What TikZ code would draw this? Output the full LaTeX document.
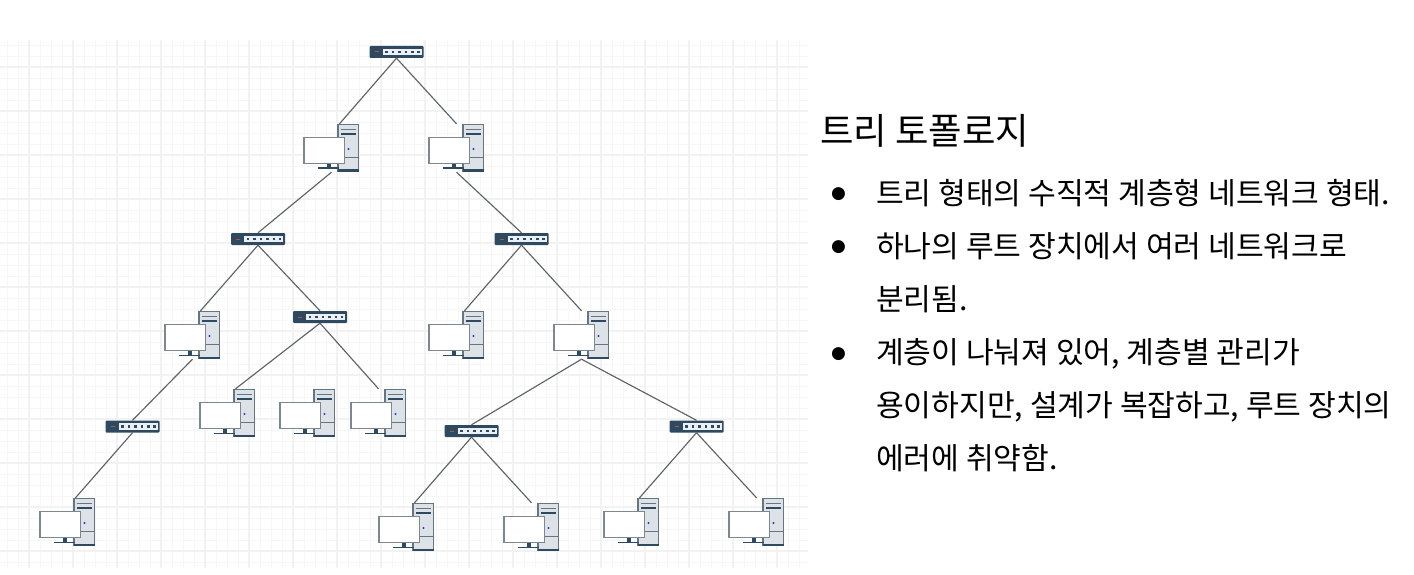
\documentclass[tikz,border=0pt]{standalone}
\usepackage{fontspec}
\usepackage{xcolor}
\usepackage{tikz}
\usetikzlibrary{positioning, arrows.meta, calc}
\newfontfamily\krfont{Noto Sans CJK KR}
\newfontfamily\dotfont{DejaVu Sans}
\definecolor{gridminor}{HTML}{F7F7F7}
\definecolor{gridmajor}{HTML}{F2F2F2}
\definecolor{wirecol}{HTML}{5F6368}
\definecolor{swbody}{HTML}{2F4A60}
\definecolor{swpanel}{HTML}{EAF0F5}
\definecolor{towerfill}{HTML}{DCE2E7}
\definecolor{towerline}{HTML}{66757F}
\definecolor{monline}{HTML}{7C878E}
\tikzset{
  pcicon/.pic={
    \node[inner sep=0pt, minimum width=57pt, minimum height=48pt] (-n) at (0,0) {};
    \begin{scope}[shift={(-28.5,-24)}]
      \draw[towerline, fill=towerfill, line width=1.2pt] (35,.8) rectangle (55.3,47);
      \fill[swbody] (34.5,45.5) rectangle (55.8,47.6);
      \fill[swbody] (37.5,9) rectangle (53,11);
      \draw[towerline, line width=.7pt] (37.5,5.5) -- (53,5.5) (35,33.5) -- (55.3,33.5);
      \fill[blue!60!gray] (45.5,25) circle (1.1pt);
      \fill[swbody] (23.5,39) rectangle (27.5,43.5);
      \fill[swbody] (15,43.5) rectangle (36,44.6);
      \draw[monline, fill=white, line width=1.4pt] (.8,13.5) rectangle (41.2,39.5);
    \end{scope}},
  swicon/.pic={
    \node[inner sep=0pt, minimum width=54pt, minimum height=12pt, fill=swbody, rounded corners=1pt] (-n) at (0,0) {};
    \begin{scope}[shift={(-27,-6)}]
      \fill[swpanel] (13,2.8) rectangle (52,9.2);
      \foreach \px in {17,23.5,30,36.5,43,49}
        \fill[swbody] (\px-1.3,4.6) rectangle (\px+1.3,7.2);
      \fill[red!35!gray] (5,5.5) rectangle (9,6.5);
    \end{scope}},
  wire/.style={wirecol, line width=1.15pt},
  headtxt/.style={anchor=base west, inner sep=0pt, font=\krfont\fontsize{36.4}{42}\selectfont},
  itemtxt/.style={anchor=north west, inner sep=0pt, align=left, font=\krfont\fontsize{30.15}{53.3}\selectfont},
  dottxt/.style={inner sep=0pt, font=\dotfont\fontsize{17}{20}\selectfont}
}
\begin{document}
\begin{tikzpicture}[x=1pt, y=-1pt]
  \useasboundingbox (0,0) rectangle (1414,575);
  % backdrop grid
  \foreach \gx in {7,18,...,807} \draw[gridminor, line width=.9pt] (\gx,40) -- (\gx,568);
  \foreach \gy in {45,56,...,567} \draw[gridminor, line width=.9pt] (0,\gy) -- (808,\gy);
  \foreach \gx in {29,73,...,807} \draw[gridmajor, line width=1.2pt] (\gx,40) -- (\gx,568);
  \foreach \gy in {67,111,...,567} \draw[gridmajor, line width=1.2pt] (0,\gy) -- (808,\gy);

  % switches
  \pic (swroot) at (396.5,52) {swicon};
  \pic (swleft) at (258,239) {swicon};
  \pic (swright) at (521.5,239) {swicon};
  \pic (swmid) at (320,317) {swicon};
  \pic (swlow) at (132.5,426.5) {swicon};
  \pic (swbota) at (471.5,431) {swicon};
  \pic (swbotb) at (696.5,426.5) {swicon};

  % computers
  \pic (pca) at (331.5,148) {pcicon};
  \pic (pcb) at (456.5,148) {pcicon};
  \pic (pcc) at (192.5,335) {pcicon};
  \pic (pcd) at (456.5,335) {pcicon};
  \pic (pce) at (581.5,335) {pcicon};
  \pic (pcf) at (227.5,413) {pcicon};
  \pic (pcg) at (307.5,413) {pcicon};
  \pic (pch) at (378.5,413) {pcicon};
  \pic (pci) at (67.5,522) {pcicon};
  \pic (pcj) at (406.5,527) {pcicon};
  \pic (pck) at (531.5,527) {pcicon};
  \pic (pcl) at (631.5,522) {pcicon};
  \pic (pcm) at (756.5,522) {pcicon};

  % links
  \draw[wire] (swroot-n.south) -- ([xshift=8pt]pca-n.north);
  \draw[wire] (swroot-n.south) -- (pcb-n.north);
  \draw[wire] (pca-n.south) -- (swleft-n.north);
  \draw[wire] (pcb-n.south) -- (swright-n.north);
  \draw[wire] (swleft-n.south) -- ([xshift=8pt]pcc-n.north);
  \draw[wire] (swleft-n.south) -- (swmid-n.north);
  \draw[wire] (swright-n.south) -- ([xshift=8pt]pcd-n.north);
  \draw[wire] (swright-n.south) -- (pce-n.north);
  \draw[wire] (swmid-n.south) -- ([xshift=8pt]pcf-n.north);
  \draw[wire] (swmid-n.south) -- (pch-n.north);
  \draw[wire] (pcc-n.south) -- (swlow-n.north);
  \draw[wire] (swlow-n.south) -- ([xshift=8pt]pci-n.north);
  \draw[wire] (pce-n.south) -- (swbota-n.north);
  \draw[wire] (pce-n.south) -- (swbotb-n.north);
  \draw[wire] (swbota-n.south) -- ([xshift=8pt]pcj-n.north);
  \draw[wire] (swbota-n.south) -- (pck-n.north);
  \draw[wire] (swbotb-n.south) -- ([xshift=8pt]pcl-n.north);
  \draw[wire] (swbotb-n.south) -- (pcm-n.north);

  % text column
  \node[headtxt] (title) at (820,144.5) {트리 토폴로지};
  \node[dottxt] (dota) at (838.5,194) {●};
  \node[dottxt] (dotb) at (838.5,247) {●};
  \node[dottxt] (dotc) at (838.5,354) {●};
  \node[itemtxt] (itema) at (876,179) {트리 형태의 수직적 계층형 네트워크 형태.};
  \node[itemtxt] (itemb) at (876,232) {하나의 루트 장치에서 여러 네트워크로\\분리됨.};
  \node[itemtxt] (itemc) at (876,338) {계층이 나눠져 있어, 계층별 관리가\\용이하지만, 설계가 복잡하고, 루트 장치의\\에러에 취약함.};
\end{tikzpicture}
\end{document}
